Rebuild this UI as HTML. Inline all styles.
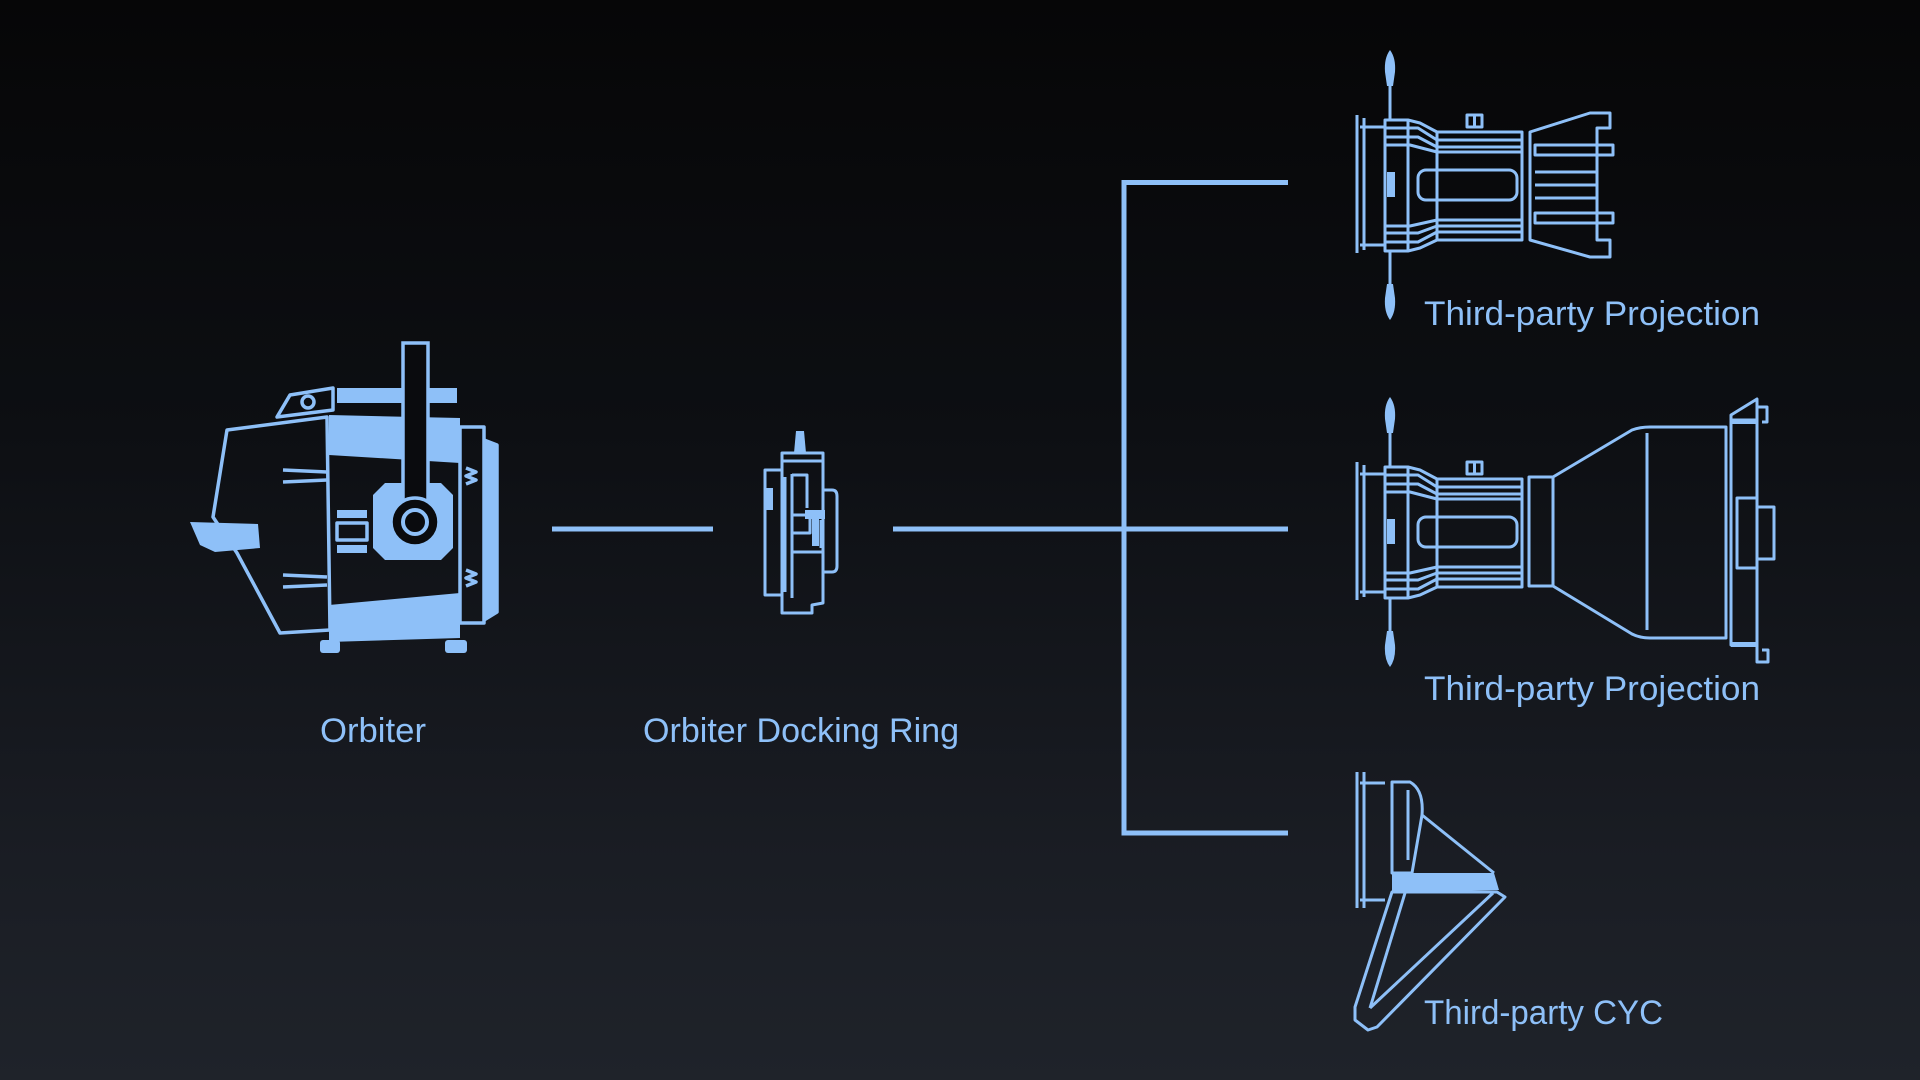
<!DOCTYPE html>
<html><head><meta charset="utf-8"><style>
html,body{margin:0;padding:0;width:1920px;height:1080px;overflow:hidden;background:linear-gradient(180deg,#060607 0%,#0d0f13 40%,#1a1d24 80%,#1f232a 100%);}
svg{display:block}
text{font-family:"Liberation Sans",sans-serif;fill:#8ec0f8;font-size:34px;}
</style></head><body>
<svg width="1920" height="1080" viewBox="0 0 1920 1080" xmlns="http://www.w3.org/2000/svg">
<defs>
<g id="projL" fill="none" stroke="#8ec0f8" stroke-width="3" stroke-linejoin="round">
  <path d="M1390 50 Q1396 58 1395 72 L1393 86 L1387 86 L1385 72 Q1384 58 1390 50 Z" fill="#8ec0f8" stroke="none"/>
  <path d="M1390 320 Q1396 312 1395 298 L1393 284 L1387 284 L1385 298 Q1384 312 1390 320 Z" fill="#8ec0f8" stroke="none"/>
  <line x1="1390" y1="85" x2="1390" y2="120"/>
  <line x1="1390" y1="251" x2="1390" y2="285"/>
  <line x1="1357" y1="115" x2="1357" y2="253"/>
  <line x1="1364" y1="118" x2="1364" y2="250"/>
  <line x1="1360" y1="127" x2="1385" y2="127"/>
  <line x1="1360" y1="245" x2="1385" y2="245"/>
  <path d="M1385 120 L1408 120 L1420 123 L1437 132 L1522 132 L1522 240 L1437 240 L1420 248 L1408 251 L1385 251 Z"/>
  <line x1="1408" y1="120" x2="1408" y2="251"/>
  <path d="M1385 128 L1418 128 L1437 140 L1522 140"/>
  <path d="M1385 137 L1418 137 L1437 147 L1522 147"/>
  <path d="M1385 145 L1410 145 L1437 152 L1522 152"/>
  <path d="M1385 226 L1410 226 L1437 220 L1522 220"/>
  <path d="M1385 233 L1418 233 L1437 226 L1522 226"/>
  <path d="M1385 242 L1418 242 L1437 232 L1522 232"/>
  <line x1="1437" y1="132" x2="1437" y2="240"/>
  <rect x="1418" y="170" width="99" height="30" rx="8"/>
  <rect x="1467" y="115" width="15" height="12"/>
  <line x1="1474.5" y1="115" x2="1474.5" y2="127"/>
  <rect x="1387" y="172" width="8" height="25" fill="#8ec0f8" stroke="none"/>
</g>
</defs>

<g stroke="#8ec0f8" stroke-width="5" fill="none">
  <line x1="552" y1="529" x2="713" y2="529"/>
  <line x1="893" y1="529" x2="1288" y2="529"/>
  <polyline points="1288,182.5 1124,182.5 1124,833 1288,833"/>
</g>

<!-- Orbiter -->
<g fill="none" stroke="#8ec0f8" stroke-width="3.5" stroke-linejoin="round">
  <path d="M227 430 L327 417 L330 630 L280 633 L237 553 L213 517 Z"/>
  <path d="M277 417 L290 395 L333 388 L333 410 Z"/>
  <circle cx="308" cy="402" r="6"/>
  <rect x="460" y="427" width="24" height="196"/>
  <path d="M484 440 L497 445 L497 612 L484 620" fill="#8ec0f8"/>
  <rect x="337" y="523" width="30" height="17"/>
  <path d="M283 470 L327 472 M283 482 L327 480 M283 575 L327 577 M283 587 L327 585"/>
  <path d="M466 468 L476 472 L466 476 L476 480 L466 484 M466 570 L476 574 L466 578 L476 582 L466 586"/>
</g>
<g fill="#8ec0f8">
  <rect x="337" y="388" width="120" height="15"/>
  <path d="M329 415 L460 418 L460 463 L329 455 Z"/>
  <path d="M329 605 L460 593 L460 638 L329 642 Z"/>
  <path d="M190 522 L258 524 L260 548 L215 552 L200 545 Z"/>
  <polygon points="385,483 441,483 453,495 453,548 441,560 385,560 373,548 373,495"/>
  <rect x="320" y="640" width="20" height="13" rx="3"/>
  <rect x="445" y="640" width="22" height="13" rx="3"/>
  <rect x="337" y="510" width="30" height="8"/>
  <rect x="337" y="545" width="30" height="8"/>
</g>
<rect x="403" y="343" width="25" height="170" fill="#0a0b0e" stroke="#8ec0f8" stroke-width="3.5"/>
<circle cx="415" cy="522" r="24" fill="#0a0b0e" stroke="#8ec0f8" stroke-width="3.5"/>
<circle cx="415" cy="522" r="12" fill="none" stroke="#8ec0f8" stroke-width="4"/>

<!-- Docking ring -->
<g fill="none" stroke="#8ec0f8" stroke-width="3" stroke-linejoin="round">
  <path d="M782 453 L823 453 L823 603 L812 605 L812 613 L782 613 Z"/>
  <line x1="782" y1="461" x2="823" y2="461"/>
  <path d="M765 470 L782 470 L782 595 L765 595 Z"/>
  <line x1="785" y1="477" x2="785" y2="592"/>
  <line x1="792" y1="474" x2="792" y2="598"/>
  <path d="M823 490 L832 490 Q837 490 837 496 L837 566 Q837 572 832 572 L823 572"/>
  <path d="M792 475 L807 475 L807 508"/>
  <path d="M792 515 L810 515 L810 533 L792 533"/>
  <line x1="792" y1="552" x2="823" y2="552"/>
  <line x1="821" y1="520" x2="821" y2="548"/>
</g>
<g fill="#8ec0f8">
  <path d="M796 431 L804 431 L806 453 L794 453 Z"/>
  <rect x="766" y="488" width="7" height="22"/>
  <rect x="805" y="510" width="20" height="9"/>
  <rect x="812" y="519" width="7" height="27"/>
</g>

<use href="#projL"/>
<g fill="none" stroke="#8ec0f8" stroke-width="3" stroke-linejoin="round">
  <path d="M1530 132 L1590 113 L1610 113 L1610 128 L1597 128 L1597 240 L1610 240 L1610 257 L1590 257 L1530 240 Z"/>
  <rect x="1535" y="145" width="78" height="10"/>
  <rect x="1535" y="213" width="78" height="10"/>
  <line x1="1535" y1="172" x2="1597" y2="172"/>
  <line x1="1535" y1="185" x2="1597" y2="185"/>
  <line x1="1535" y1="198" x2="1597" y2="198"/>
</g>

<use href="#projL" transform="translate(0,347)"/>
<g fill="none" stroke="#8ec0f8" stroke-width="3" stroke-linejoin="round">
  <rect x="1529" y="477" width="24" height="109"/>
  <path d="M1553 477 L1632 430 Q1640 427 1650 427 L1726 427 L1726 638 L1650 638 Q1640 638 1632 634 L1553 586"/>
  <line x1="1647" y1="433" x2="1647" y2="630"/>
  <path d="M1731 420 L1757 420 L1757 645 L1731 645 Z"/>
  <path d="M1731 420 L1731 415 L1757 399 L1757 420"/>
  <path d="M1757 407 L1767 407 L1767 422 L1762 422"/>
  <path d="M1757 645 L1757 662 L1768 662 L1768 650 L1762 650"/>
  <rect x="1737" y="498" width="20" height="70"/>
  <rect x="1757" y="507" width="17" height="52"/>
</g>
<rect x="1731" y="420" width="26" height="4" fill="#8ec0f8"/>
<rect x="1731" y="642" width="26" height="5" fill="#8ec0f8"/>

<!-- CYC -->
<g fill="none" stroke="#8ec0f8" stroke-width="3" stroke-linejoin="round">
  <line x1="1357" y1="772" x2="1357" y2="908"/>
  <line x1="1364" y1="772" x2="1364" y2="908"/>
  <line x1="1360" y1="783" x2="1385" y2="783"/>
  <line x1="1360" y1="900" x2="1385" y2="900"/>
  <path d="M1392 782 L1410 782 Q1424 790 1422 815 L1412 873 L1392 873 Z"/>
  <line x1="1408" y1="790" x2="1408" y2="860"/>
  <line x1="1422" y1="815" x2="1494" y2="873"/>
  <path d="M1392 892 L1497 892 L1505 897 L1377 1027 L1368 1030 L1355 1020 L1355 1007 Z"/>
  <line x1="1405" y1="893" x2="1370" y2="1008"/>
  <line x1="1493" y1="893" x2="1370" y2="1008"/>
</g>
<path d="M1392 873 L1494 873 L1499 890 L1392 892 Z" fill="#8ec0f8"/>

<text x="320" y="742" textLength="106" lengthAdjust="spacingAndGlyphs">Orbiter</text>
<text x="643" y="742" textLength="316" lengthAdjust="spacingAndGlyphs">Orbiter Docking Ring</text>
<text x="1424" y="325" textLength="336" lengthAdjust="spacingAndGlyphs">Third-party Projection</text>
<text x="1424" y="700" textLength="336" lengthAdjust="spacingAndGlyphs">Third-party Projection</text>
<text x="1424" y="1024" textLength="239" lengthAdjust="spacingAndGlyphs">Third-party CYC</text>
</svg>
</body></html>
